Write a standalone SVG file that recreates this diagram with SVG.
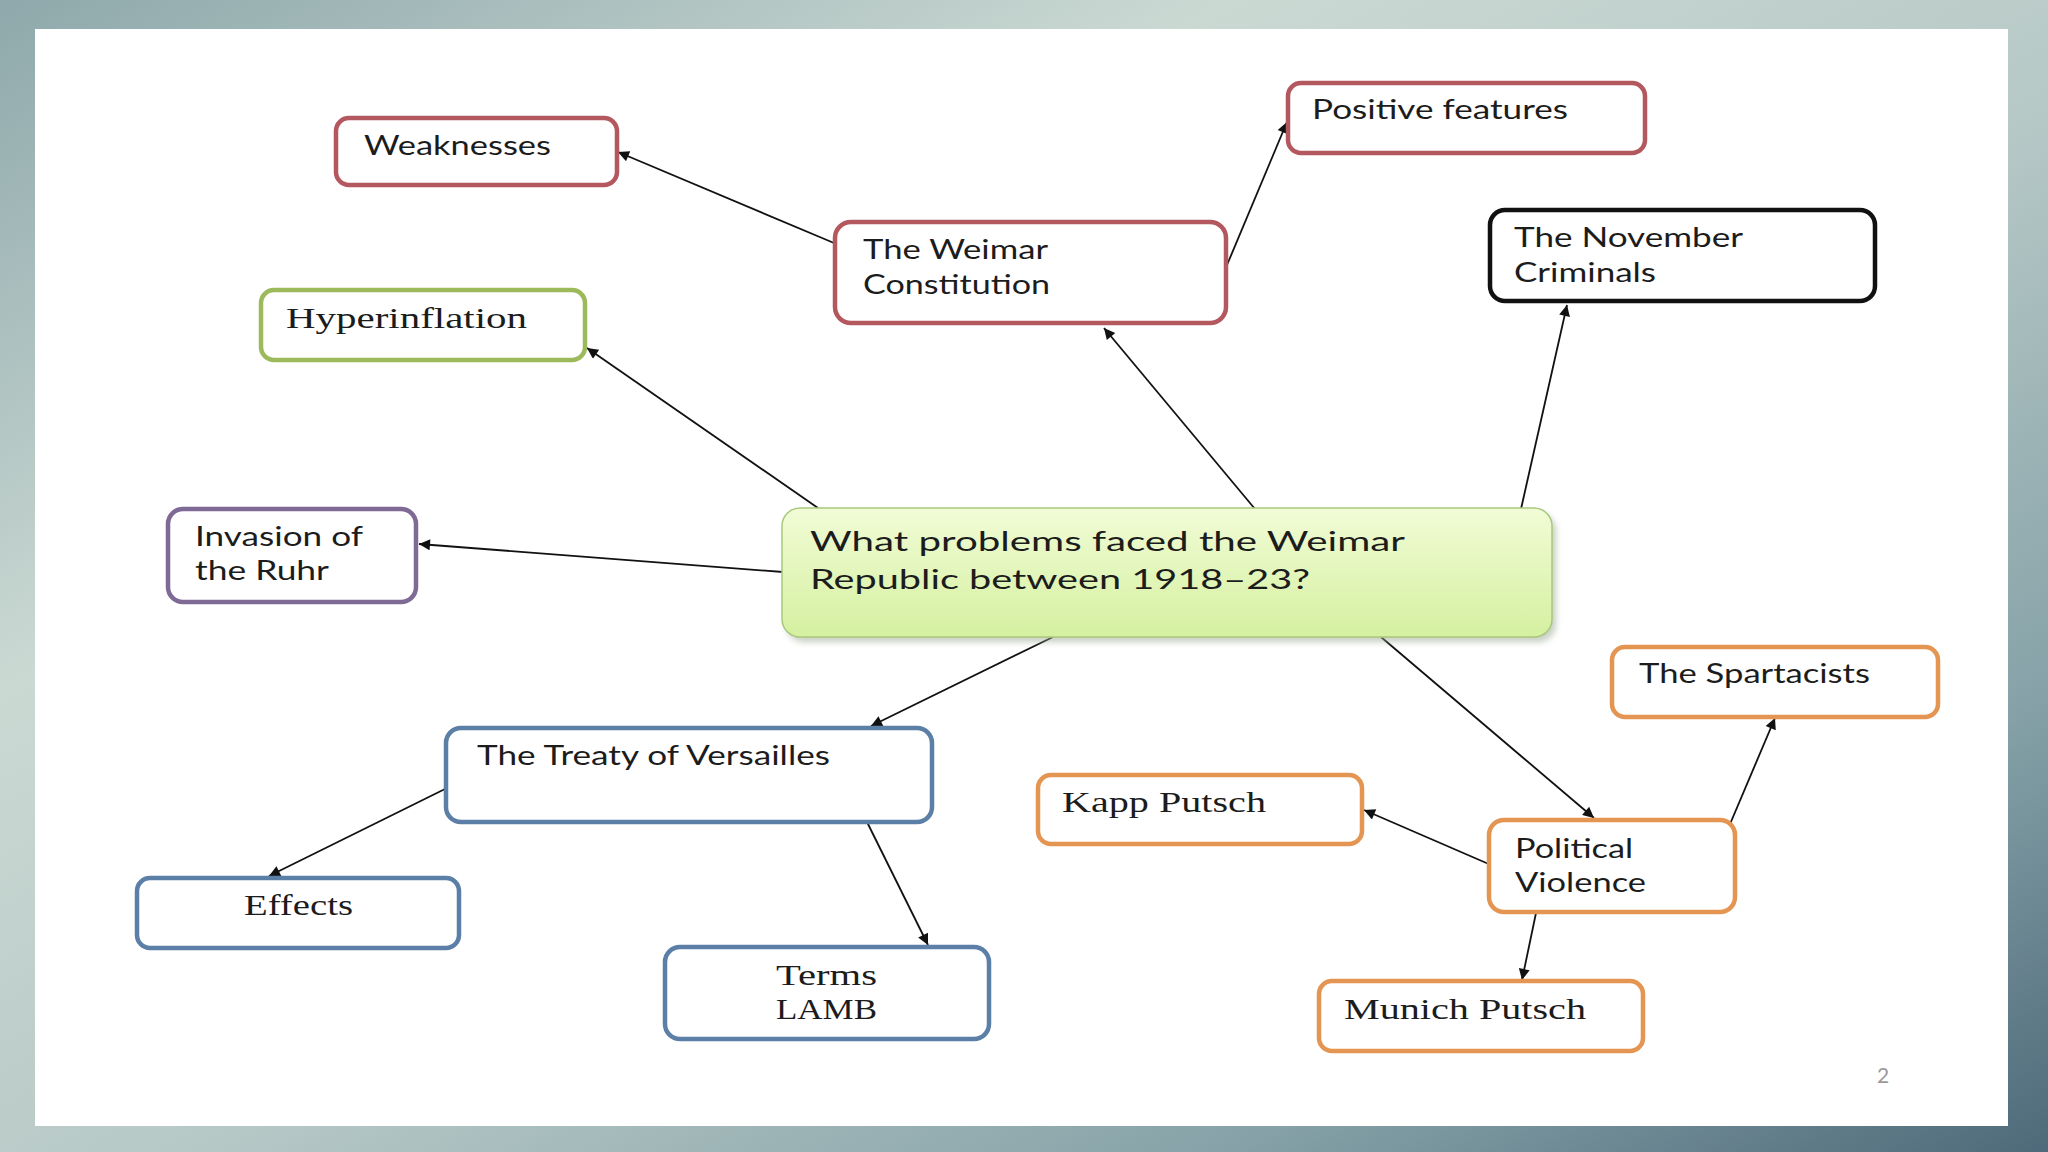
<svg xmlns="http://www.w3.org/2000/svg" width="2048" height="1152" viewBox="0 0 2048 1152">
  <defs>
    <linearGradient id="bg" x1="0" y1="0" x2="1" y2="1">
      <stop offset="0" stop-color="#8ea8ab"/>
      <stop offset="0.3" stop-color="#cbd9d3"/>
      <stop offset="0.55" stop-color="#b6c8c6"/>
      <stop offset="0.8" stop-color="#86a2a8"/>
      <stop offset="1" stop-color="#4e6979"/>
    </linearGradient>
    <linearGradient id="centerFill" x1="0" y1="0" x2="0" y2="1">
      <stop offset="0" stop-color="#f1fcd6"/>
      <stop offset="1" stop-color="#d5f0a0"/>
    </linearGradient>
    <filter id="shadow" x="-10%" y="-10%" width="120%" height="130%">
      <feGaussianBlur stdDeviation="3"/>
    </filter>
    <marker id="arrow" viewBox="0 0 10 10" refX="10" refY="5" markerUnits="userSpaceOnUse" markerWidth="14" markerHeight="11" orient="auto">
      <path d="M0,0 L10,5 L0,10 z" fill="#111"/>
    </marker>
  </defs>
  <style>
    .box { fill: #ffffff; stroke-width: 4.5; }
    .red { stroke: #b4585f; }
    .green { stroke: #9cba5a; }
    .purple { stroke: #7e6a94; }
    .blue { stroke: #5b7fa6; }
    .orange { stroke: #e49552; }
    .black { stroke: #111111; }
    .sans { font-family: Lato, "Open Sans", "Liberation Sans", sans-serif; font-size: 26px; fill: #1c1c1c; }
    .serif { font-family: "Liberation Serif", "DejaVu Serif", serif; font-size: 29px; fill: #1c1c1c; }
    .conn line { stroke: #111; stroke-width: 1.8; marker-end: url(#arrow); }
  </style>

  <rect x="0" y="0" width="2048" height="1152" fill="url(#bg)"/>
  <rect x="35" y="29" width="1973" height="1097" fill="#ffffff"/>

  <g id="connectors" class="conn">
    <line x1="818" y1="508" x2="587" y2="348"/>
    <line x1="1255" y1="509" x2="1104" y2="328"/>
    <line x1="1521" y1="509" x2="1567" y2="305"/>
    <line x1="783" y1="572" x2="419" y2="544"/>
    <line x1="1053" y1="637" x2="871" y2="726"/>
    <line x1="1381" y1="637" x2="1594" y2="818"/>
    <line x1="834" y1="243" x2="618" y2="152"/>
    <line x1="1227" y1="265" x2="1287" y2="122"/>
    <line x1="447" y1="788" x2="269" y2="876"/>
    <line x1="867" y1="822" x2="928" y2="945"/>
    <line x1="1722" y1="843" x2="1775" y2="718"/>
    <line x1="1491" y1="865" x2="1364" y2="810"/>
    <line x1="1536" y1="913" x2="1522" y2="980"/>
  </g>

  <g id="center">
    <rect x="786" y="513" width="770" height="129" rx="18" fill="#9aa890" opacity="0.55" filter="url(#shadow)"/>
    <rect x="782" y="508" width="770" height="129" rx="18" fill="url(#centerFill)" stroke="#a9c77c" stroke-width="1.5"/>
    <text class="sans" font-size="27" x="810" y="551" textLength="595" lengthAdjust="spacingAndGlyphs">What problems faced the Weimar</text>
    <text class="sans" font-size="27" x="810" y="589" textLength="500" lengthAdjust="spacingAndGlyphs">Republic between 1918–23?</text>
  </g>

  <g id="weaknesses">
    <rect class="box red" x="336" y="118" width="281" height="67" rx="13"/>
    <text class="sans" x="364" y="155" textLength="187" lengthAdjust="spacingAndGlyphs">Weaknesses</text>
  </g>

  <g id="hyperinflation">
    <rect class="box green" x="261" y="290" width="324" height="70" rx="13"/>
    <text class="serif" font-size="30" x="286" y="328" textLength="241" lengthAdjust="spacingAndGlyphs">Hyperinflation</text>
  </g>

  <g id="weimar-constitution">
    <rect class="box red" x="835" y="222" width="391" height="101" rx="16"/>
    <text class="sans" x="863" y="259" textLength="185" lengthAdjust="spacingAndGlyphs">The Weimar</text>
    <text class="sans" x="863" y="294" textLength="187" lengthAdjust="spacingAndGlyphs">Constitution</text>
  </g>

  <g id="positive-features">
    <rect class="box red" x="1288" y="83" width="357" height="70" rx="13"/>
    <text class="sans" x="1312" y="119" textLength="256" lengthAdjust="spacingAndGlyphs">Positive features</text>
  </g>

  <g id="november-criminals">
    <rect class="box black" x="1490" y="210" width="385" height="91" rx="15"/>
    <text class="sans" x="1514" y="247" textLength="229" lengthAdjust="spacingAndGlyphs">The November</text>
    <text class="sans" x="1514" y="282" textLength="142" lengthAdjust="spacingAndGlyphs">Criminals</text>
  </g>

  <g id="invasion-ruhr">
    <rect class="box purple" x="168" y="509" width="248" height="93" rx="15"/>
    <text class="sans" x="195" y="546" textLength="168" lengthAdjust="spacingAndGlyphs">Invasion of</text>
    <text class="sans" x="195" y="580" textLength="134" lengthAdjust="spacingAndGlyphs">the Ruhr</text>
  </g>

  <g id="treaty-versailles">
    <rect class="box blue" x="446" y="728" width="486" height="94" rx="15"/>
    <text class="sans" font-size="27" x="477" y="765" textLength="353" lengthAdjust="spacingAndGlyphs">The Treaty of Versailles</text>
  </g>

  <g id="effects">
    <rect class="box blue" x="137" y="878" width="322" height="70" rx="13"/>
    <text class="serif" x="244" y="915" textLength="109" lengthAdjust="spacingAndGlyphs">Effects</text>
  </g>

  <g id="terms">
    <rect class="box blue" x="665" y="947" width="324" height="92" rx="15"/>
    <text class="serif" x="776" y="985" textLength="101" lengthAdjust="spacingAndGlyphs">Terms</text>
    <text class="serif" x="776" y="1019" textLength="101" lengthAdjust="spacingAndGlyphs">LAMB</text>
  </g>

  <g id="kapp-putsch">
    <rect class="box orange" x="1038" y="775" width="324" height="69" rx="13"/>
    <text class="serif" x="1062" y="812" textLength="204" lengthAdjust="spacingAndGlyphs">Kapp Putsch</text>
  </g>

  <g id="political-violence">
    <rect class="box orange" x="1489" y="820" width="246" height="92" rx="15"/>
    <text class="sans" x="1515" y="858" textLength="118" lengthAdjust="spacingAndGlyphs">Political</text>
    <text class="sans" x="1515" y="892" textLength="131" lengthAdjust="spacingAndGlyphs">Violence</text>
  </g>

  <g id="spartacists">
    <rect class="box orange" x="1612" y="647" width="326" height="70" rx="13"/>
    <text class="sans" x="1639" y="683" textLength="231" lengthAdjust="spacingAndGlyphs">The Spartacists</text>
  </g>

  <g id="munich-putsch">
    <rect class="box orange" x="1319" y="981" width="324" height="70" rx="13"/>
    <text class="serif" x="1344" y="1019" textLength="242" lengthAdjust="spacingAndGlyphs">Munich Putsch</text>
  </g>

  <text x="1877" y="1083" font-family="Lato, 'Liberation Sans', sans-serif" font-size="21" fill="#9a9a9a">2</text>
</svg>
